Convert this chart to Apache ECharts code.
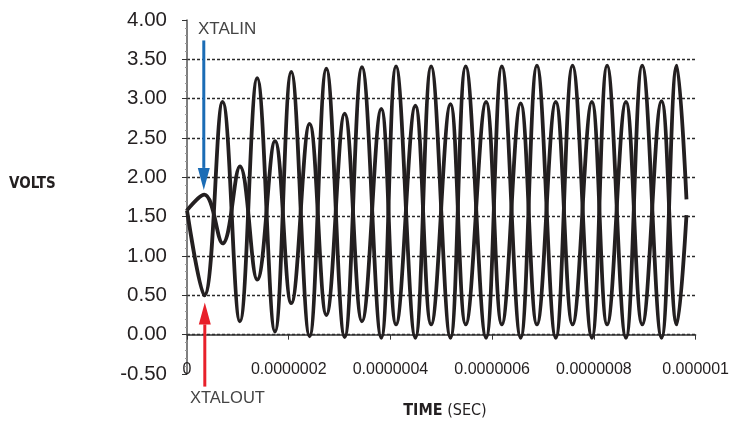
<!DOCTYPE html>
<html>
<head>
<meta charset="utf-8">
<script src="https://cdn.jsdelivr.net/npm/echarts@6/dist/echarts.min.js"></script>
<style>
html,body{margin:0;padding:0;background:#fff}
#chart{width:732px;height:426px}
</style>
</head>
<body>
<div id="chart"></div>
<script>
// time in nanoseconds, axis labels are printed in seconds
const timeNs = [0, 34, 70, 104, 138, 173, 205, 241, 274, 310, 344, 382, 411, 449, 480, 518, 548, 588, 619, 656, 688, 725, 758, 796, 826, 863, 895, 933, 963, 982];
const xtalOut = [1.58, 0.50, 2.96, 0.17, 3.26, 0.04, 3.34, -0.02, 3.38, -0.03, 3.40, -0.04, 3.41, -0.04, 3.41, -0.04, 3.41, -0.04, 3.41, -0.04, 3.42, -0.04, 3.42, -0.04, 3.42, -0.04, 3.42, -0.04, 3.42, 1.72];
const xtalIn = [1.58, 1.78, 1.16, 2.14, 0.70, 2.46, 0.40, 2.68, 0.25, 2.81, 0.17, 2.87, 0.13, 2.91, 0.13, 2.93, 0.13, 2.96, 0.13, 2.94, 0.13, 2.96, 0.13, 2.96, 0.13, 2.96, 0.13, 2.97, 0.13, 1.52];

// arrow annotations (data units)
const inArrow = {t: 33, from: 3.74, to: 1.84};
const outArrow = {t: 35, from: -0.66, to: 0.41};

const ink = '#231f20';
const font = "'Liberation Sans', Arial, sans-serif";
const narrow = "'Liberation Sans Narrow', 'DejaVu Sans Condensed', sans-serif";

const chart = echarts.init(document.getElementById('chart'));
chart.setOption({
    animation: false,
    backgroundColor: '#fff',
    grid: {left: 187, right: 35, top: 20, bottom: 52},
    xAxis: {
        type: 'value',
        min: 0, max: 1000, interval: 200,
        axisLine: {onZero: true, lineStyle: {color: '#333', width: 1.5}},
        axisTick: {length: 5, lineStyle: {color: '#333'}},
        axisLabel: {
            margin: -12, fontSize: 16, color: ink, fontFamily: font,
            formatter: v => v === 0 ? '0' : (v * 1e-9).toFixed(7).replace(/0+$/, '')
        },
        splitLine: {show: false}
    },
    yAxis: {
        type: 'value',
        min: -0.5, max: 4, interval: 0.5,
        axisLine: {show: true, onZero: false, lineStyle: {color: '#555', width: 1.5}},
        axisTick: {show: true, length: 5, lineStyle: {color: '#333'}},
        minorTick: {show: true, splitNumber: 5, length: 2, lineStyle: {color: '#999'}},
        axisLabel: {margin: 20, fontSize: 20.5, color: ink, fontFamily: font, formatter: v => v.toFixed(2)},
        splitLine: {show: true, showMinLine: false, showMaxLine: false,
            lineStyle: {color: '#2a2a2a', type: [3, 2], width: 1.3}}
    },
    series: [
        {
            name: 'XTALOUT', type: 'line', smooth: 0.4, showSymbol: false, clip: false,
            lineStyle: {color: ink, width: 3.8},
            data: timeNs.map((t, i) => [t, xtalOut[i]])
        },
        {
            name: 'XTALIN', type: 'line', smooth: 0.4, showSymbol: false, clip: false,
            lineStyle: {color: ink, width: 3.8},
            data: timeNs.map((t, i) => [t, xtalIn[i]])
        }
    ]
});

const px = (t, v) => chart.convertToPixel({gridIndex: 0}, [t, v]);
function arrow(a, color) {
    const s = px(a.t, a.from), e = px(a.t, a.to);
    const dir = Math.sign(e[1] - s[1]);
    const hl = 22, hw = 6;
    return [
        {type: 'line', z: 10, shape: {x1: s[0], y1: s[1], x2: e[0], y2: e[1] - dir * hl},
            style: {stroke: color, lineWidth: 3}},
        {type: 'polygon', z: 10, shape: {points: [[e[0], e[1]], [e[0] - hw, e[1] - dir * hl], [e[0] + hw, e[1] - dir * hl]]},
            style: {fill: color}}
    ];
}

chart.setOption({
    graphic: [
        {type: 'text', style: {x: 9, y: 184, text: 'VOLTS', font: 'bold 15px ' + narrow, fill: ink, verticalAlign: 'middle'}},
        {type: 'text', style: {x: 198, y: 29, text: 'XTALIN', font: '17px ' + font, fill: '#444', verticalAlign: 'middle'}},
        {type: 'text', style: {x: 190, y: 398, text: 'XTALOUT', font: '16.5px ' + font, fill: '#444', verticalAlign: 'middle'}},
        {type: 'text', style: {x: 445, y: 411, text: '{b|TIME} (SEC)', font: '16px ' + narrow, fill: ink,
            align: 'center', verticalAlign: 'middle',
            rich: {b: {fontWeight: 'bold', fontSize: 16, fontFamily: narrow}}}},
        ...arrow(inArrow, '#1b6cb5'),
        ...arrow(outArrow, '#e8202a')
    ]
});
</script>
</body>
</html>
